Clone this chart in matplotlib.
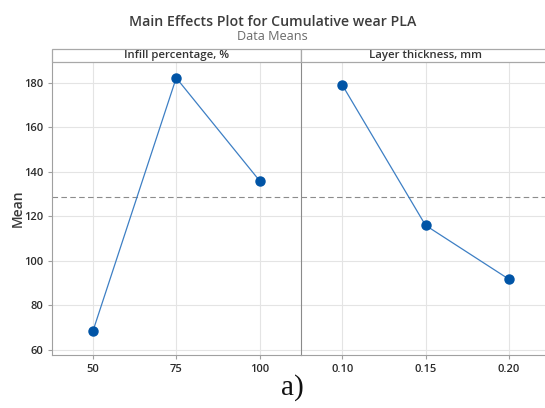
import numpy as np
import matplotlib.pyplot as plt
from matplotlib.patches import Rectangle

# Data
infill_levels = ["50", "75", "100"]
infill_means = [68.4, 182.2, 136.0]
layer_levels = ["0.10", "0.15", "0.20"]
layer_means = [179.1, 116.0, 91.8]
panel_titles = ["Infill percentage, %", "Layer thickness, mm"]
y_ticks = [60, 80, 100, 120, 140, 160, 180]

overall_mean = np.mean(infill_means + layer_means)

plt.rcParams['font.family'] = ['Open Sans', 'DejaVu Sans']

fig = plt.figure(figsize=(5.45, 4.08), dpi=100)
W, H = 545, 408

# panel geometry in pixels
left, pw = 52, 249.3
top, bottom = 62.3, 354.7
strip_top = 49

line_col = '#3d7fc4'
mark_col = '#0054a6'
grid_col = '#e4e4e4'
spine_col = '#a0a0a0'

for i, (levels, means, title) in enumerate(zip([infill_levels, layer_levels],
                                               [infill_means, layer_means],
                                               panel_titles)):
    x0 = left + i * pw
    ax = fig.add_axes([x0 / W, 1 - bottom / H, pw / W, (bottom - top) / H])
    xs = np.arange(len(levels))
    ax.plot(xs, means, color=line_col, lw=0.9, zorder=3)
    ax.plot(xs, means, 'o', color=mark_col, ms=6.5, zorder=4)
    ax.axhline(overall_mean, color='#8c8c8c', lw=0.8, ls=(0, (5, 3)), zorder=2)
    ax.set_xlim(-0.49, 2.5)
    ax.set_ylim(57.9, 189.2)
    ax.set_xticks(xs)
    ax.set_xticklabels(levels)
    ax.set_yticks(y_ticks)
    ax.grid(True, color=grid_col, lw=0.8, zorder=0)
    ax.set_axisbelow(True)
    for s in ['top', 'right']:
        ax.spines[s].set_visible(False)
    ax.spines['left'].set_color(spine_col if i == 0 else '#8a8a8a')
    ax.spines['bottom'].set_color(spine_col)
    ax.tick_params(axis='both', colors=spine_col, labelcolor='#2b2b2b',
                   labelsize=8, length=3, width=0.8)
    for lab in ax.get_xticklabels() + ax.get_yticklabels():
        lab.set_fontweight('semibold')
    if i == 1:
        ax.tick_params(axis='y', left=False, labelleft=False)

    # strip header
    sy = 1 - top / H
    sh = (top - strip_top) / H
    fig.patches.append(Rectangle((x0 / W, sy), pw / W, sh, transform=fig.transFigure,
                                 facecolor='white', edgecolor='#a8a8a8', lw=0.9))
    fig.text((x0 + pw / 2) / W, sy + sh / 2, title, ha='center', va='center',
             fontsize=8.2, color='#333333', fontweight='semibold')

fig.text(18 / W, 1 - 208 / H, 'Mean', rotation=90, ha='center', va='center',
         fontsize=10, color='#3a3a3a', fontweight='semibold')
fig.text(0.5, 1 - 26 / H, 'Main Effects Plot for Cumulative wear PLA', ha='center',
         va='baseline', fontsize=10.2, color='#3c3c3c', fontweight='semibold')
fig.text(0.5, 1 - 39.5 / H, 'Data Means', ha='center', va='baseline',
         fontsize=9.1, color='#6a6a6a')
fig.text(292 / W, 1 - 388 / H, 'a)', ha='center', va='center',
         fontsize=21, color='#111111', family='Liberation Serif')

fig.savefig('out.png', dpi=100)
